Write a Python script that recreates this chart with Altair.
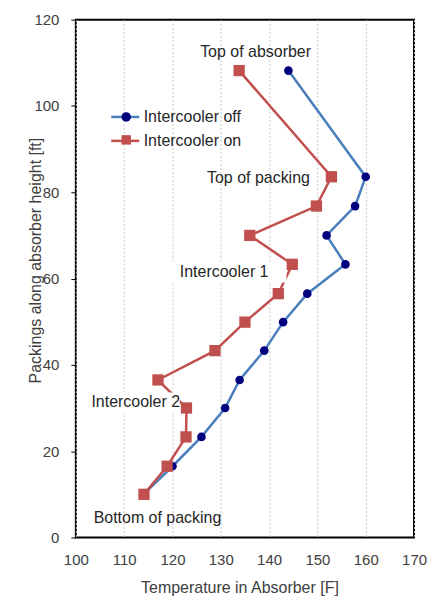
import altair as alt
import pandas as pd

# ---- data ----
heights = [108.2, 83.6, 76.8, 70.0, 63.3, 56.5, 49.9, 43.3, 36.5, 30.0, 23.3, 16.5, 10.0]
temp_off = [144.0, 160.0, 157.8, 151.9, 155.8, 147.9, 142.9, 139.0, 133.9, 130.9, 126.0, 120.0, 114.0]
temp_on = [133.8, 152.9, 149.8, 136.0, 144.8, 141.9, 135.0, 128.8, 117.0, 122.9, 122.8, 118.9, 114.1]
series_names = ["Intercooler off", "Intercooler on"]
line_colors = ["#4a7ebb", "#c0504d"]
marker_colors = ["#00007f", "#c0504d"]
marker_shapes = ["circle", "square"]
marker_sizes = [75, 128]

ann_text = ["Top of absorber", "Top of packing", "Intercooler 1", "Intercooler 2", "Bottom of packing"]
ann_temp = [137.2, 137.8, 130.7, 112.4, 116.9]
ann_height = [112.4, 83.4, 61.6, 31.3, 4.6]

# white label boxes of the two intercooler callouts (they hide parts of the red line)
box_t1 = [119.6, 101.2]
box_t2 = [143.6, 121.5]
box_h1 = [59.1, 29.0]
box_h2 = [63.9, 33.6]

x_ticks = [100, 110, 120, 130, 140, 150, 160, 170]
y_ticks = [0, 20, 40, 60, 80, 100, 120]

FONT = "Liberation Sans"
TXT = "#404040"

rows = []
for name, temps in zip(series_names, [temp_off, temp_on]):
    for i, (t, h) in enumerate(zip(temps, heights)):
        rows.append({"series": name, "marker": name, "temp": t, "height": h, "idx": i})
df = pd.DataFrame(rows)
ann_df = pd.DataFrame({"t": ann_text, "x": ann_temp, "y": ann_height})
box_df = pd.DataFrame({"t1": box_t1, "t2": box_t2, "h1": box_h1, "h2": box_h2})

x_enc = alt.X(
    "temp:Q",
    scale=alt.Scale(domain=[100, 170], nice=False, zero=False),
    axis=alt.Axis(
        values=x_ticks, format="d", grid=True, gridDash=[2, 2], gridColor="#c8c8c8",
        ticks=False, domain=False, labelFlush=False, labelFontSize=15, labelFont=FONT,
        labelColor=TXT, labelPadding=15, title="Temperature in Absorber [F]",
        titleFont=FONT, titleFontSize=16, titleFontWeight="normal", titleColor=TXT,
        titleX=164, titleY=50, titleBaseline="middle",
    ),
)
y_enc = alt.Y(
    "height:Q",
    scale=alt.Scale(domain=[0, 120], nice=False),
    axis=alt.Axis(
        values=y_ticks, grid=False, ticks=True, tickSize=5, tickColor="#000000",
        domain=False, labelFontSize=15, labelFont=FONT, labelColor=TXT, labelPadding=12,
        title="Packings along absorber height [ft]", titleFont=FONT, titleFontSize=16,
        titleFontWeight="normal", titleColor=TXT, titleX=-40, titleY=241,
        titleBaseline="middle",
    ),
)

line = alt.Chart(df).mark_line(strokeWidth=2.5).encode(
    x=x_enc,
    y=y_enc,
    color=alt.Color(
        "series:N",
        scale=alt.Scale(domain=series_names, range=line_colors),
        legend=alt.Legend(
            orient="none", legendX=34, legendY=82, title=None, symbolType="stroke",
            symbolSize=784, symbolStrokeWidth=2.5, labelFontSize=16, labelFont=FONT,
            labelColor="#262626", labelOffset=3, rowPadding=0,
        ),
    ),
    order="idx:Q",
)

boxes = alt.Chart(box_df).mark_rect(color="white").encode(
    x="t1:Q", x2="t2:Q", y="h1:Q", y2="h2:Q"
)

points = alt.Chart(df).mark_point(filled=True, opacity=1, strokeWidth=0).encode(
    x=x_enc,
    y=y_enc,
    fill=alt.Fill(
        "marker:N",
        scale=alt.Scale(range=marker_colors),
        legend=alt.Legend(
            orient="none", legendX=42.5, legendY=89.5, title=None, symbolSize=90,
            labelExpr="''", labelFontSize=16, labelFont=FONT, rowPadding=7,
            symbolStrokeWidth=0, symbolOpacity=1,
        ),
    ),
    shape=alt.Shape("marker:N", scale=alt.Scale(range=marker_shapes)),
    size=alt.Size("marker:N", scale=alt.Scale(range=marker_sizes), legend=None),
)

labels = alt.Chart(ann_df).mark_text(
    fontSize=16, font=FONT, color="#262626", align="center", baseline="middle"
).encode(x="x:Q", y="y:Q", text="t:N")

chart = (
    alt.layer(line, boxes, points, labels)
    .resolve_legend(color="independent", fill="independent", shape="independent")
    .properties(
        width=339, height=519, autosize="none",
        padding={"left": 68, "top": 11, "right": 13, "bottom": 62},
        background="white",
    )
    .configure_view(stroke="#000000", strokeWidth=2)
)

chart.save("out.html", embed_options={"renderer": "svg", "actions": False})
